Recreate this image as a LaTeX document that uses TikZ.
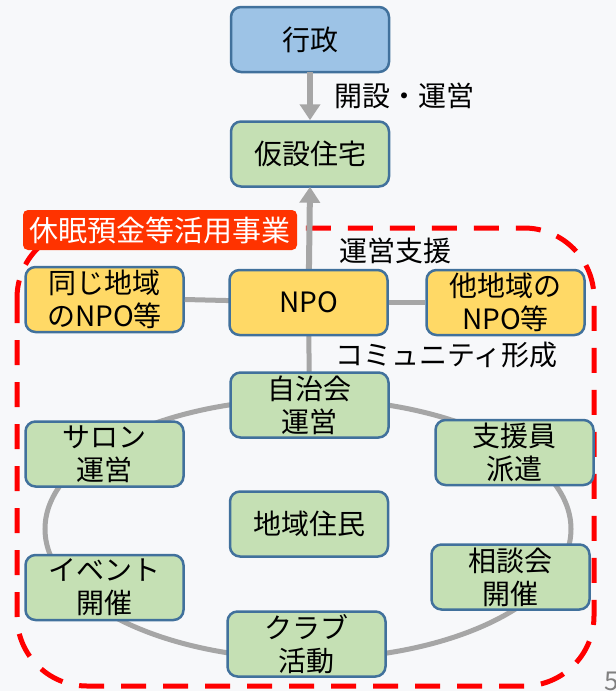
\documentclass[tikz,border=0pt]{standalone}
\usepackage{fontspec}
\setmainfont{Noto Sans CJK JP}
\usetikzlibrary{arrows.meta}
\definecolor{bgc}{RGB}{247,248,250}
\definecolor{bluef}{RGB}{157,195,230}
\definecolor{greenf}{RGB}{197,224,180}
\definecolor{yellowf}{RGB}{255,217,102}
\definecolor{edgec}{RGB}{65,113,156}
\definecolor{grayc}{RGB}{166,166,166}
\definecolor{redc}{RGB}{255,0,0}
\definecolor{labelc}{RGB}{255,51,0}
\begin{document}
\begin{tikzpicture}[x=1pt,y=-1pt,
  box/.style={draw=edgec, line width=2.5pt, rounded corners=10pt, minimum width=158pt, minimum height=65pt, inner sep=0pt, align=center, font=\fontsize{28}{33}\selectfont},
  bluebox/.style={box, fill=bluef},
  greenbox/.style={box, fill=greenf},
  yellowbox/.style={box, fill=yellowf},
  conn/.style={draw=grayc, line width=5pt},
  arr/.style={draw=grayc, line width=6pt, -{Triangle[width=20pt,length=16pt]}},
  lbl/.style={anchor=west, inner sep=0pt, font=\fontsize{28}{33}\selectfont},
  redframe/.style={draw=redc, line width=5pt, dash pattern=on 25pt off 17pt, rounded corners=70pt}
]
\fill[bgc] (0,0) rectangle (616,691);
\useasboundingbox (0,0) rectangle (616,691);

% ellipse ring of community activities
\draw[grayc, line width=5pt] (308,529) ellipse [x radius=263, y radius=130];

% dashed frame
\draw[redframe] (17,228) rectangle (594,686);

% nodes
\node[bluebox] (gyosei) at (310,39.5) {行政};
\node[greenbox] (kasetsu) at (310,154) {仮設住宅};
\node[yellowbox] (onaji) at (104.5,299.5) {同じ地域\\のNPO等};
\node[yellowbox] (tachiiki) at (505.5,302.5) {他地域の\\NPO等};
\node[greenbox] (salon) at (104.5,454) {サロン\\運営};
\node[greenbox] (shien) at (514.5,452.5) {支援員\\派遣};
\node[greenbox] (jumin) at (309,524) {地域住民};
\node[greenbox] (event) at (104.5,587.5) {イベント\\開催};
\node[greenbox] (sodan) at (510.5,577) {相談会\\開催};
\node[greenbox] (club) at (306.5,644) {クラブ\\活動};
\coordinate (npoc) at (308.5,302.5);
\coordinate (jichic) at (309.5,405);

% connectors
\draw[arr, shorten <=-1pt] (gyosei.south) -- (kasetsu.north);
\draw[conn] (onaji.east) -- (npoc);
\draw[conn] (npoc) -- (tachiiki.west);
\draw[conn] (npoc) -- (jichic);
\draw[arr, shorten >=-1pt] (npoc) -- (kasetsu.south);

\node[yellowbox] (npo) at (npoc) {NPO};
\node[greenbox] (jichikai) at (jichic) {自治会\\運営};

% red label
\node[fill=labelc, text=white, rounded corners=5pt, minimum width=274pt, minimum height=40pt, inner sep=0pt, font=\fontsize{29}{33}\selectfont] (kyumin) at (160,230) {休眠預金等活用事業};

% edge labels
\node[lbl] (l1) at (334,96) {開設・運営};
\node[lbl] (l2) at (339,251) {運営支援};
\node[lbl] (l3) at (335,355) {コミュニティ形成};

% page number
\node[anchor=north west, inner sep=0pt, text=gray, font=\fontsize{26}{30}\selectfont] (pg) at (604,672) {5};
\end{tikzpicture}
\end{document}
